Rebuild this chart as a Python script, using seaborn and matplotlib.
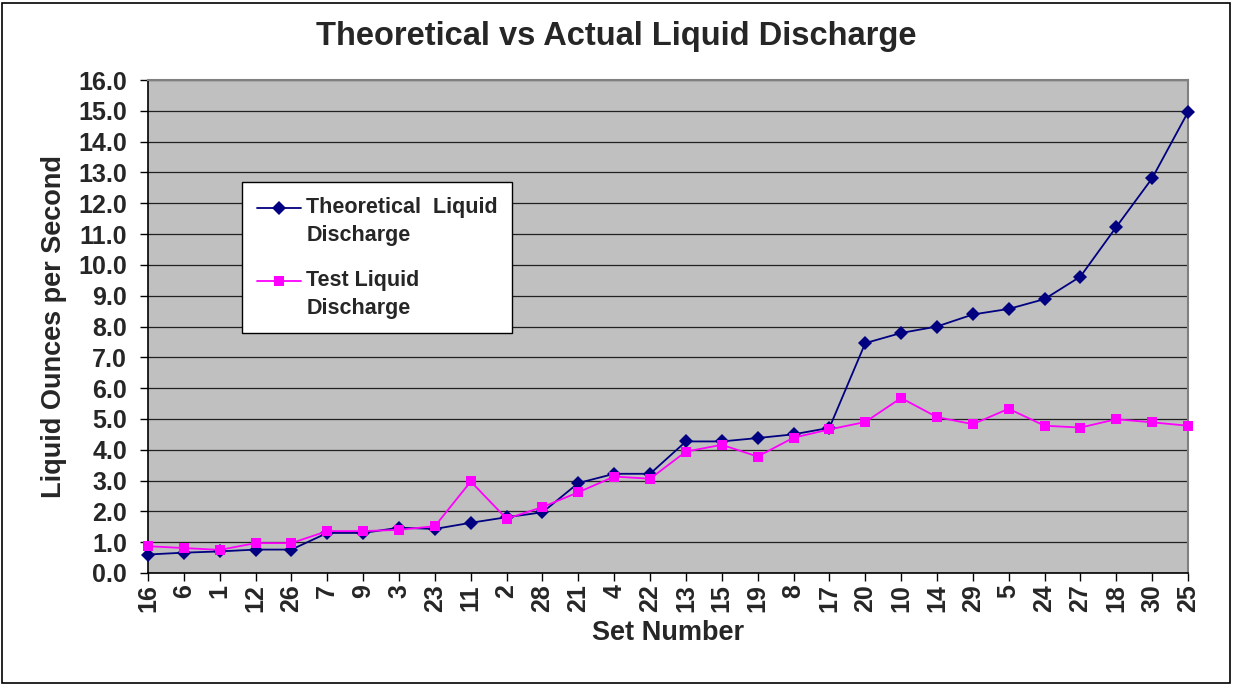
import matplotlib
matplotlib.use("Agg")
import matplotlib.pyplot as plt
import seaborn as sns
import pandas as pd
from matplotlib.patches import Rectangle
from matplotlib.ticker import FormatStrFormatter

# data
set_numbers = ['16', '6', '1', '12', '26', '7', '9', '3', '23', '11', '2', '28', '21', '4', '22',
               '13', '15', '19', '8', '17', '20', '10', '14', '29', '5', '24', '27', '18', '30', '25']
theoretical = [0.60, 0.66, 0.70, 0.76, 0.76, 1.30, 1.30, 1.47, 1.43, 1.63, 1.81, 1.97, 2.92, 3.22, 3.22,
               4.27, 4.27, 4.38, 4.50, 4.71, 7.46, 7.79, 8.00, 8.39, 8.57, 8.89, 9.62, 11.23, 12.81, 14.96]
test = [0.87, 0.81, 0.75, 0.97, 0.97, 1.36, 1.36, 1.40, 1.52, 2.97, 1.76, 2.14, 2.62, 3.13, 3.06,
        3.94, 4.16, 3.78, 4.39, 4.66, 4.90, 5.68, 5.06, 4.83, 5.33, 4.78, 4.72, 4.99, 4.89, 4.78]
y_ticks = list(range(0, 17))

series_names = ['Theoretical  Liquid\nDischarge', 'Test Liquid\nDischarge']

df = pd.DataFrame({'set': set_numbers, 'pos': range(len(set_numbers)),
                   series_names[0]: theoretical, series_names[1]: test})
long_df = df.melt(id_vars=['set', 'pos'], var_name='series', value_name='value')

sns.set_style('white')
plt.rcParams['font.family'] = ['Liberation Sans', 'DejaVu Sans']
plt.rcParams['font.weight'] = 'bold'

fig = plt.figure(figsize=(12.33, 6.85), dpi=100)
ax = fig.add_axes([148 / 1233, 1 - 573 / 685, 1040 / 1233, 493 / 685])
ax.set_facecolor('#c0c0c0')

sns.lineplot(data=long_df, x='pos', y='value', hue='series', style='series',
             palette={series_names[0]: '#000080', series_names[1]: '#ff00ff'},
             markers={series_names[0]: 'D', series_names[1]: 's'},
             dashes=False, sort=False, linewidth=1.3, markersize=7.5,
             markeredgewidth=0, ax=ax, zorder=3, clip_on=False)

ax.set_xlim(0, len(set_numbers) - 1)
ax.set_ylim(0, 16)
ax.set_xticks(df['pos'])
ax.set_xticklabels(set_numbers, rotation=90, fontsize=18, fontweight='bold')
ax.set_yticks(y_ticks)
ax.yaxis.set_major_formatter(FormatStrFormatter('%.1f'))
for lab in ax.get_yticklabels():
    lab.set_fontsize(18)
    lab.set_fontweight('bold')
ax.tick_params(axis='y', direction='out', length=6, width=1, color='black', pad=9, left=True)
ax.tick_params(axis='x', direction='out', length=6, width=1, color='black', pad=2, bottom=True)

ax.grid(axis='y', color='#202020', linewidth=0.9)
ax.set_axisbelow(True)
for side in ['left', 'bottom']:
    ax.spines[side].set_color('black')
    ax.spines[side].set_linewidth(1.2)
for side in ['top', 'right']:
    ax.spines[side].set_color('#808080')
    ax.spines[side].set_linewidth(1.5)

ax.set_xlabel('Set Number', fontsize=19.5, fontweight='bold', labelpad=6)
ax.set_ylabel('Liquid Ounces per Second', fontsize=19.5, fontweight='bold', labelpad=8)
fig.suptitle('Theoretical vs Actual Liquid Discharge', fontsize=23.5, fontweight='bold',
             y=1 - 37 / 685, va='center')

leg = ax.legend(loc='upper left', bbox_to_anchor=(94 / 1040, 1 - 102 / 493),
                frameon=True, fancybox=False, edgecolor='black', facecolor='white',
                framealpha=1, prop={'size': 15.5, 'weight': 'bold'},
                handlelength=2.05, labelspacing=1.1, borderpad=0.68, borderaxespad=0,
                handletextpad=0.25)
leg.get_frame().set_linewidth(1.0)
for t in leg.get_texts():
    t.set_linespacing(1.45)
# line up the legend keys with the first line of each label
for h in leg.legend_handles:
    h.set_ydata([v + 10 for v in h.get_ydata()])

fig.add_artist(Rectangle((2 / 1233, 2 / 685), 1228 / 1233, 680 / 685, transform=fig.transFigure,
                         fill=False, edgecolor='black', linewidth=1.2))

fig.savefig('out.png', dpi=100)
